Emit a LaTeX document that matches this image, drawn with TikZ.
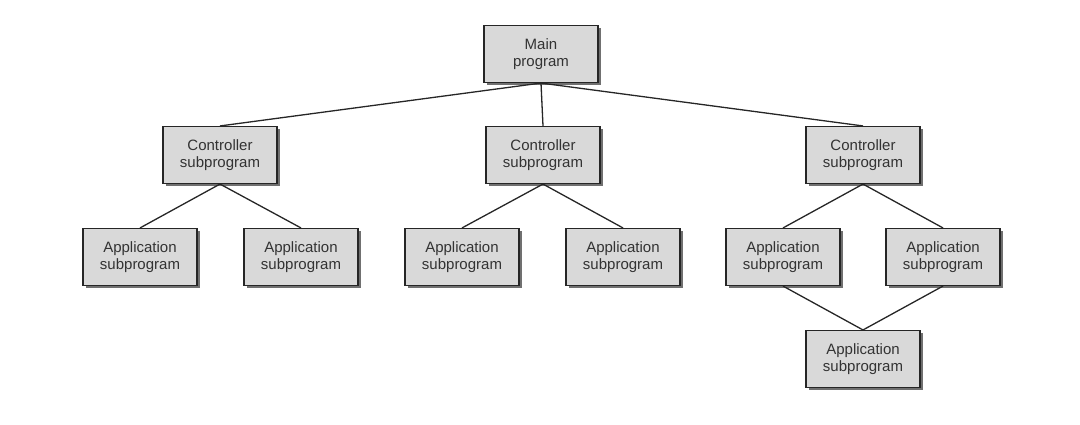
\documentclass[tikz,border=0pt]{standalone}
\usepackage{fontspec}
\setmainfont{Liberation Sans}
\usetikzlibrary{shadows}
\begin{document}
\begin{tikzpicture}[x=1pt,y=-1pt,
  box/.style={draw=black!85,line width=1.1pt,fill=black!15,minimum width=114pt,minimum height=57pt,align=center,font=\fontsize{15}{17}\selectfont\color{black!80},inner sep=2pt,
    drop shadow={shadow xshift=2.5pt,shadow yshift=-2.5pt,fill=black!70,opacity=0.8}},
  ln/.style={line width=1.3pt,black!85}]
\useasboundingbox (0,0) rectangle (1080,424);
\node[box] (m) at (541,54) {Main\\program};
\node[box] (c1) at (220,155) {Controller\\subprogram};
\node[box] (c2) at (543,155) {Controller\\subprogram};
\node[box] (c3) at (863,155) {Controller\\subprogram};
\node[box] (a1) at (140,257) {Application\\subprogram};
\node[box] (a2) at (301,257) {Application\\subprogram};
\node[box] (a3) at (462,257) {Application\\subprogram};
\node[box] (a4) at (623,257) {Application\\subprogram};
\node[box] (a5) at (783,257) {Application\\subprogram};
\node[box] (a6) at (943,257) {Application\\subprogram};
\node[box] (a7) at (863,359) {Application\\subprogram};
\foreach \c in {c1,c2,c3} \draw[ln] (m.south) -- (\c.north);
\draw[ln] (c1.south) -- (a1.north); \draw[ln] (c1.south) -- (a2.north);
\draw[ln] (c2.south) -- (a3.north); \draw[ln] (c2.south) -- (a4.north);
\draw[ln] (c3.south) -- (a5.north); \draw[ln] (c3.south) -- (a6.north);
\draw[ln] (a5.south) -- (a7.north); \draw[ln] (a6.south) -- (a7.north);
\end{tikzpicture}
\end{document}
